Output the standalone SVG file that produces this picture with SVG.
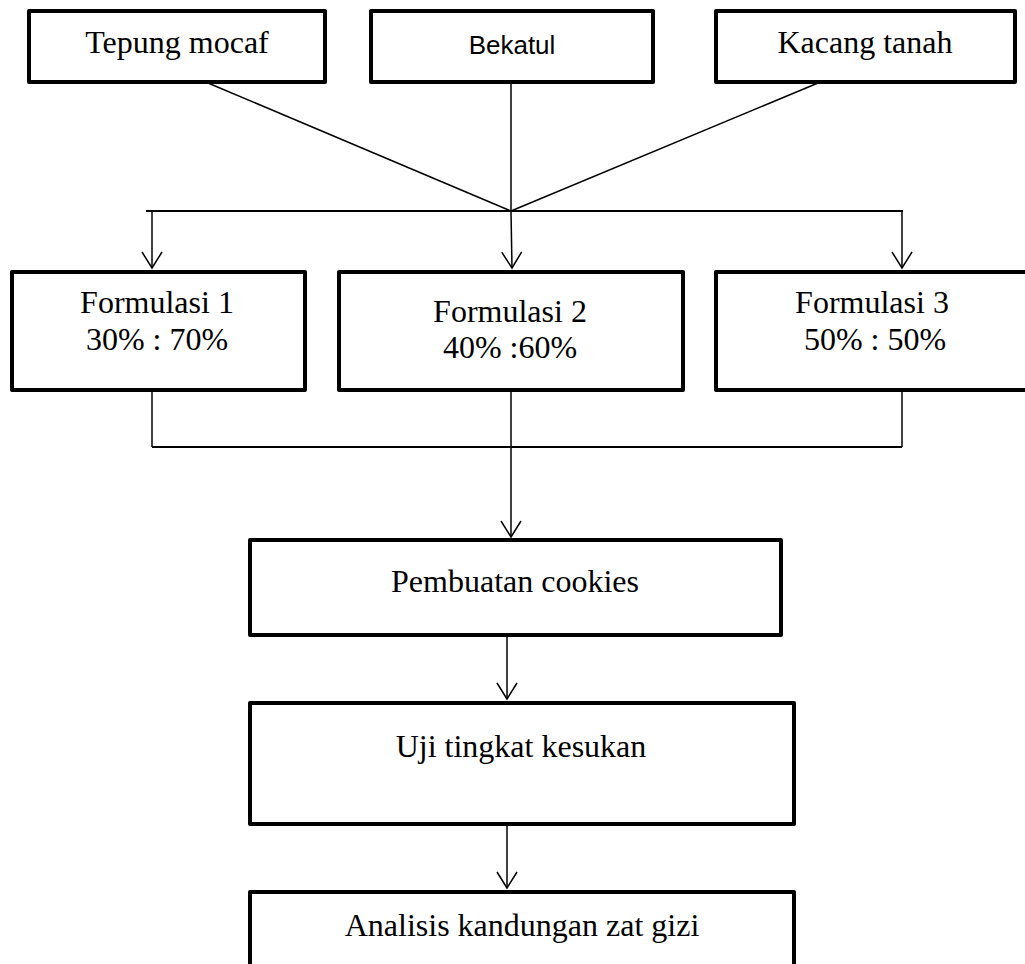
<svg xmlns="http://www.w3.org/2000/svg" width="1025" height="964" viewBox="0 0 1025 964">
<style>
.box{fill:#fff;stroke:#000;stroke-width:4;stroke-linejoin:round}
.t{font-family:"Liberation Serif","Times New Roman",serif;font-size:32px;fill:#000;text-anchor:middle}
.s{font-family:"Liberation Sans",Arial,sans-serif;font-size:26px;fill:#000;text-anchor:middle}
.c{fill:none;stroke:#000;stroke-width:1.5}
</style>
<defs>
<marker id="ah" viewBox="-18 -12 20 24" refX="0" refY="0" markerWidth="20" markerHeight="24" markerUnits="userSpaceOnUse" orient="auto">
<path d="M-16,-10 L0,0 L-16,10" fill="none" stroke="#000" stroke-width="1.5"/>
</marker>
</defs>
<rect width="1025" height="964" fill="#fff"/>
<g id="connectors">
<line class="c" x1="208" y1="83" x2="511" y2="211"/>
<line class="c" x1="511" y1="83" x2="511" y2="211"/>
<line class="c" x1="818" y1="83" x2="511" y2="211"/>
<line class="c" x1="146" y1="211" x2="903" y2="211" style="stroke-width:2"/>
<line class="c" x1="152" y1="211" x2="152" y2="268" marker-end="url(#ah)"/>
<line class="c" x1="511" y1="211" x2="512" y2="268" marker-end="url(#ah)"/>
<line class="c" x1="902" y1="211" x2="902" y2="268" marker-end="url(#ah)"/>
<line class="c" x1="152" y1="391" x2="152" y2="447"/>
<line class="c" x1="902" y1="391" x2="902" y2="447"/>
<line class="c" x1="152" y1="447" x2="902" y2="447" style="stroke-width:2"/>
<line class="c" x1="511" y1="391" x2="511" y2="537" marker-end="url(#ah)"/>
<line class="c" x1="507" y1="636" x2="507" y2="699" marker-end="url(#ah)"/>
<line class="c" x1="507" y1="825" x2="507" y2="888" marker-end="url(#ah)"/>
</g>
<g id="tepung"><rect class="box" x="29" y="11" width="296" height="71"/><text class="t" x="177" y="53">Tepung mocaf</text></g>
<g id="bekatul"><rect class="box" x="371" y="11" width="282" height="71"/><text class="s" x="512" y="54">Bekatul</text></g>
<g id="kacang"><rect class="box" x="716" y="11" width="299" height="71"/><text class="t" x="865" y="53">Kacang tanah</text></g>
<g id="f1"><rect class="box" x="12" y="272" width="293" height="118"/><text class="t" x="157" y="313">Formulasi 1</text><text class="t" x="157" y="350">30% : 70%</text></g>
<g id="f2"><rect class="box" x="339" y="272" width="344" height="118"/><text class="t" x="510" y="322">Formulasi 2</text><text class="t" x="510" y="358">40% :60%</text></g>
<g id="f3"><rect class="box" x="716" y="272" width="320" height="118"/><text class="t" x="872" y="313">Formulasi 3</text><text class="t" x="875" y="350">50% : 50%</text></g>
<g id="pembuatan"><rect class="box" x="250" y="540" width="531" height="95"/><text class="t" x="515" y="592">Pembuatan cookies</text></g>
<g id="uji"><rect class="box" x="250" y="703" width="544" height="121"/><text class="t" x="521" y="757">Uji tingkat kesukan</text></g>
<g id="analisis"><rect class="box" x="250" y="892" width="544" height="100"/><text class="t" x="522" y="936">Analisis kandungan zat gizi</text></g>
</svg>
